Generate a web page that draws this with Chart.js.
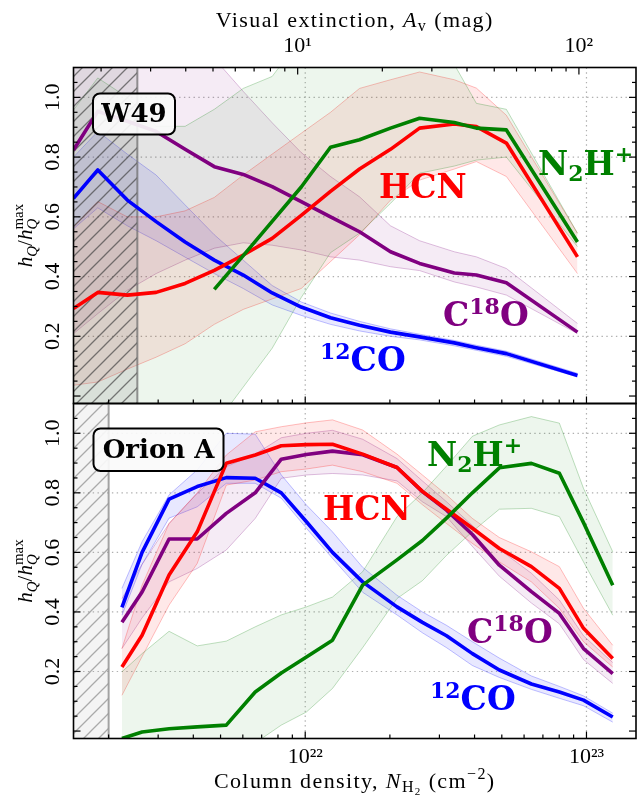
<!DOCTYPE html>
<html lang="en">
<head>
  <meta charset="UTF-8" />
  <title>Normalised emission vs column density</title>
  <script src="https://cdn.jsdelivr.net/npm/chart.js"></script>
  <style>
    body { margin: 0; background: #fff; }
    #wrap { position: relative; width: 637px; height: 801px; }
    canvas { position: absolute; left: 0; }
    #topCanvas { top: 0; }
    #botCanvas { top: 402px; }
  </style>
</head>
<body>
  <div id="wrap">
    <canvas id="topCanvas" width="637" height="405"></canvas>
    <canvas id="botCanvas" width="637" height="399"></canvas>
  </div>

  <script>
    // ---- W49 (top panel): column density bins, cm^-2 ----
    const w49N = [1.5e21, 1.83e21, 2.33e21, 2.95e21, 3.74e21, 4.75e21, 6.02e21, 7.63e21, 9.68e21,
                  1.23e22, 1.56e22, 2.01e22, 2.55e22, 3.39e22, 4.06e22, 5.19e22, 9.29e22];
    const w49CO     = [0.662, 0.757, 0.656, 0.584, 0.516, 0.455, 0.405, 0.345, 0.298, 0.262, 0.237, 0.214, 0.198, 0.178, 0.162, 0.142, 0.069];
    const w49COHi   = [0.80, 0.886, 0.81, 0.74, 0.64, 0.54, 0.455, 0.37, 0.315, 0.278, 0.25, 0.225, 0.207, 0.186, 0.17, 0.15, 0.076];
    const w49COLo   = [0.56, 0.63, 0.57, 0.52, 0.465, 0.41, 0.36, 0.305, 0.27, 0.24, 0.218, 0.20, 0.188, 0.168, 0.153, 0.133, 0.064];
    const w49C18O   = [0.824, 0.953, 0.92, 0.886, 0.826, 0.768, 0.742, 0.701, 0.651, 0.60, 0.55, 0.483, 0.444, 0.412, 0.405, 0.379, 0.214];
    const w49C18OHi = [1.25, 1.3, 1.28, 1.25, 1.2, 1.13, 1.02, 0.915, 0.815, 0.735, 0.667, 0.57, 0.52, 0.483, 0.466, 0.427, 0.243];
    const w49C18OLo = [0.209, 0.276, 0.354, 0.41, 0.455, 0.495, 0.513, 0.505, 0.489, 0.466, 0.455, 0.433, 0.42, 0.382, 0.365, 0.338, 0.209];
    const w49HCN    = [0.293, 0.347, 0.338, 0.347, 0.377, 0.421, 0.472, 0.528, 0.605, 0.685, 0.76, 0.826, 0.897, 0.911, 0.902, 0.847, 0.466];
    const w49HCNHi  = [0.567, 0.651, 0.60, 0.60, 0.62, 0.665, 0.74, 0.81, 0.88, 0.95, 1.03, 1.059, 1.085, 1.059, 1.031, 0.94, 0.545];
    const w49HCNLo  = [0.036, 0.047, 0.09, 0.13, 0.175, 0.24, 0.29, 0.325, 0.36, 0.45, 0.54, 0.656, 0.723, 0.76, 0.785, 0.735, 0.41];
    const w49N2H    = [null, null, null, null, null, 0.357, 0.47, 0.585, 0.70, 0.833, 0.858, 0.897, 0.93, 0.916, 0.897, 0.891, 0.516];
    const w49N2HHi  = [0.958, 1.065, 1.0, 0.903, 0.903, 0.96, 1.03, 1.07, 1.2, 1.25, 1.25, 1.22, 1.17, 1.11, 0.98, 0.96, 0.545];
    const w49N2HLo  = [-0.3, -0.3, -0.3, -0.3, -0.25, -0.1, 0.03, 0.16, 0.33, 0.48, 0.545, 0.645, 0.746, 0.77, 0.79, 0.80, 0.50];

    // ---- Orion A (bottom panel) ----
    const oriN = [2.23e21, 2.63e21, 3.28e21, 4.13e21, 5.24e21, 6.64e21, 8.22e21, 1.01e22, 1.25e22, 1.60e22,
                  2.12e22, 2.61e22, 3.18e22, 3.93e22, 4.90e22, 6.37e22, 8.01e22, 9.76e22, 1.24e23];
    const oriCO     = [0.415, 0.60, 0.779, 0.821, 0.851, 0.849, 0.80, 0.703, 0.60, 0.501, 0.417, 0.365, 0.32, 0.26, 0.205, 0.158, 0.131, 0.104, 0.047];
    const oriCOHi   = [0.479, 0.636, 0.793, 0.877, 1.0, 0.997, 0.86, 0.759, 0.669, 0.55, 0.456, 0.40, 0.355, 0.30, 0.245, 0.185, 0.15, 0.118, 0.06];
    const oriCOLo   = [0.389, 0.56, 0.715, 0.753, 0.832, 0.832, 0.782, 0.681, 0.58, 0.466, 0.39, 0.33, 0.28, 0.22, 0.18, 0.14, 0.11, 0.085, 0.03];
    const oriC18O   = [0.365, 0.467, 0.645, 0.645, 0.731, 0.80, 0.913, 0.929, 0.94, 0.928, 0.885, 0.804, 0.742, 0.66, 0.557, 0.468, 0.395, 0.277, 0.193];
    const oriC18OHi = [0.445, 0.56, 0.697, 0.798, 0.888, 0.93, 0.985, 1.0, 1.01, 0.98, 0.915, 0.84, 0.77, 0.69, 0.61, 0.53, 0.44, 0.32, 0.23];
    const oriC18OLo = [0.277, 0.38, 0.501, 0.546, 0.608, 0.714, 0.849, 0.86, 0.865, 0.86, 0.84, 0.77, 0.72, 0.62, 0.52, 0.43, 0.36, 0.24, 0.16];
    const oriHCN    = [0.215, 0.322, 0.524, 0.669, 0.899, 0.927, 0.958, 0.962, 0.963, 0.93, 0.885, 0.805, 0.745, 0.681, 0.613, 0.552, 0.479, 0.345, 0.244];
    const oriHCNHi  = [0.277, 0.49, 0.697, 0.80, 0.927, 1.005, 1.022, 1.035, 1.045, 1.011, 0.93, 0.86, 0.793, 0.714, 0.65, 0.602, 0.552, 0.412, 0.288];
    const oriHCNLo  = [0.12, 0.25, 0.423, 0.563, 0.826, 0.843, 0.871, 0.88, 0.893, 0.871, 0.832, 0.76, 0.697, 0.63, 0.568, 0.501, 0.412, 0.30, 0.215];
    const oriN2H    = [-0.025, -0.003, 0.008, 0.014, 0.02, 0.131, 0.195, 0.249, 0.305, 0.49, 0.575, 0.64, 0.715, 0.80, 0.884, 0.899, 0.866, 0.70, 0.49];
    const oriN2HHi  = [0.199, 0.26, 0.335, 0.286, 0.302, 0.35, 0.39, 0.417, 0.45, 0.535, 0.72, 0.80, 0.89, 0.99, 1.028, 1.056, 1.034, 0.815, 0.602];
    const oriN2HLo  = [-0.2, -0.2, -0.2, -0.2, -0.15, -0.04, 0.02, 0.064, 0.143, 0.28, 0.445, 0.505, 0.59, 0.67, 0.745, 0.748, 0.72, 0.568, 0.389];

    // incomplete region (hatched) upper edge per panel
    const w49Hatch = 2.53e21;
    const oriHatch = 2.0e21;

    // axes
    const NH2_PER_AV = 9.4e20;
    const xMin = 1.5e21, xMax = 1.5e23;
    const yMin = -0.025, yMax = 1.1;
    const nTicks = [2e21, 3e21, 4e21, 5e21, 6e21, 7e21, 8e21, 9e21, 1e22,
                    2e22, 3e22, 4e22, 5e22, 6e22, 7e22, 8e22, 9e22, 1e23];
    const avTicks = [2, 3, 4, 5, 6, 7, 8, 9, 10, 20, 30, 40, 50, 60, 70, 80, 90, 100];
    const yMinor = [0, 0.05, 0.1, 0.15, 0.2, 0.25, 0.3, 0.35, 0.4, 0.45, 0.5, 0.55, 0.6,
                    0.65, 0.7, 0.75, 0.8, 0.85, 0.9, 0.95, 1.0, 1.05];
    const yGrid = [0.2, 0.4, 0.6, 0.8, 1.0];
    const xGrid = [1e22, 1e23];

    const RGB = { co: '0,0,255', c18o: '128,0,128', hcn: '255,0,0', n2h: '0,128,0' };
    const SERIF = '"Liberation Serif", "DejaVu Serif", serif';
    const BOLD = '"DejaVu Serif", serif';
    const SUP = { '0': '⁰', '1': '¹', '2': '²', '3': '³', '4': '⁴', '5': '⁵', '6': '⁶', '7': '⁷', '8': '⁸', '9': '⁹' };

    function pts(xs, ys) {
      return xs.map((x, i) => ({ x: x, y: ys[i] }));
    }

    function pow10Label(v) {
      const e = Math.log10(v);
      if (Math.abs(e - Math.round(e)) > 1e-6) return null;
      return '10' + String(Math.round(e)).split('').map(d => SUP[d]).join('');
    }

    function hatchPattern(lineCol, bgCol) {
      const c = document.createElement('canvas');
      c.width = 15; c.height = 15;
      const g = c.getContext('2d');
      g.fillStyle = bgCol;
      g.fillRect(0, 0, 15, 15);
      g.strokeStyle = lineCol;
      g.lineWidth = 1.3;
      g.beginPath();
      g.moveTo(0, 15); g.lineTo(15, 0);
      g.moveTo(-2, 2); g.lineTo(2, -2);
      g.moveTo(13, 17); g.lineTo(17, 13);
      g.stroke();
      return g.createPattern(c, 'repeat');
    }

    function lineSet(xs, ys, rgb) {
      return { data: pts(xs, ys), borderColor: 'rgb(' + rgb + ')', borderWidth: 3.6,
               borderJoinStyle: 'round', pointRadius: 0, fill: false, xAxisID: 'x', yAxisID: 'y' };
    }

    function bandSets(xs, hi, lo, rgb, alpha) {
      return [
        { data: pts(xs, hi), borderColor: 'rgba(' + rgb + ',0.25)', borderWidth: 1, pointRadius: 0,
          backgroundColor: 'rgba(' + rgb + ',' + alpha + ')', fill: '+1', xAxisID: 'x', yAxisID: 'y' },
        { data: pts(xs, lo), borderColor: 'rgba(' + rgb + ',0.25)', borderWidth: 1, pointRadius: 0,
          fill: false, xAxisID: 'x', yAxisID: 'y' }
      ];
    }

    function hatchSets(edge, pattern, edgeCol) {
      return [
        { data: [{ x: edge, y: -0.2 }, { x: edge, y: 1.3 }], borderColor: edgeCol, borderWidth: 2,
          pointRadius: 0, fill: false, xAxisID: 'x', yAxisID: 'y' },
        { data: [{ x: xMin, y: 1.3 }, { x: edge, y: 1.3 }], borderWidth: 0, pointRadius: 0,
          backgroundColor: pattern, fill: 'start', xAxisID: 'x', yAxisID: 'y' }
      ];
    }

    // rich text: parts = [text, font, dy]
    function richWidth(ctx, parts) {
      let w = 0;
      parts.forEach(p => { ctx.font = p[1]; w += ctx.measureText(p[0]).width; });
      return w;
    }
    function drawRich(ctx, parts, x, y) {
      let cx = x;
      parts.forEach(p => {
        ctx.font = p[1];
        ctx.fillText(p[0], cx, y + (p[2] || 0));
        cx += ctx.measureText(p[0]).width;
      });
    }

    const L = 'bold 33px ' + BOLD, S = 'bold 22px ' + BOLD;
    const lblN2H = [['N', L], ['2', S, 6], ['H', L], ['+', S, -13]];
    const lblHCN = [['HCN', L]];
    const lblC18O = [['C', L], ['18', S, -12], ['O', L]];
    const lblCO = [['12', S, -12], ['CO', L]];

    const PANELS = {
      top: {
        box: { text: 'W49', x: 93, y: 93.5, w: 82, h: 41 },
        labels: [
          { parts: lblN2H, color: 'rgb(0,128,0)', x: 538, y: 175 },
          { parts: lblHCN, color: 'rgb(255,0,0)', x: 379, y: 198 },
          { parts: lblC18O, color: 'rgb(128,0,128)', x: 443, y: 326 },
          { parts: lblCO, color: 'rgb(0,0,255)', x: 320, y: 371 }
        ]
      },
      bottom: {
        box: { text: 'Orion A', x: 93.5, y: 26.5, w: 130, h: 42.5 },
        labels: [
          { parts: lblN2H, color: 'rgb(0,128,0)', x: 427, y: 64 },
          { parts: lblHCN, color: 'rgb(255,0,0)', x: 323, y: 118 },
          { parts: lblC18O, color: 'rgb(128,0,128)', x: 467, y: 241 },
          { parts: lblCO, color: 'rgb(0,0,255)', x: 430, y: 308 }
        ]
      }
    };

    function roundRect(ctx, x, y, w, h, r) {
      ctx.beginPath();
      ctx.moveTo(x + r, y);
      ctx.lineTo(x + w - r, y);
      ctx.arcTo(x + w, y, x + w, y + r, r);
      ctx.lineTo(x + w, y + h - r);
      ctx.arcTo(x + w, y + h, x + w - r, y + h, r);
      ctx.lineTo(x + r, y + h);
      ctx.arcTo(x, y + h, x, y + h - r, r);
      ctx.lineTo(x, y + r);
      ctx.arcTo(x, y, x + r, y, r);
      ctx.closePath();
    }

    const framePlugin = {
      id: 'frame',
      beforeDatasetsDraw(chart, args, opts) {
        const { ctx, chartArea: a, scales } = chart;
        ctx.save();
        ctx.strokeStyle = '#b0b0b0';
        ctx.lineWidth = 1.2;
        ctx.setLineDash([1.4, 3.4]);
        yGrid.forEach(v => {
          const py = scales.y.getPixelForValue(v);
          ctx.beginPath(); ctx.moveTo(a.left, py); ctx.lineTo(a.right, py); ctx.stroke();
        });
        xGrid.forEach(v => {
          const px = scales.x.getPixelForValue(v);
          ctx.beginPath(); ctx.moveTo(px, a.top); ctx.lineTo(px, a.bottom); ctx.stroke();
        });
        ctx.restore();
      },
      afterDatasetsDraw(chart, args, opts) {
        const { ctx, chartArea: a, scales } = chart;
        const panel = PANELS[opts.panel];
        ctx.save();
        // curve labels
        ctx.textBaseline = 'alphabetic';
        panel.labels.forEach(l => {
          ctx.fillStyle = l.color;
          drawRich(ctx, l.parts, l.x, l.y);
        });
        // region box
        const b = panel.box;
        roundRect(ctx, b.x, b.y, b.w, b.h, 7);
        ctx.fillStyle = 'rgba(250,250,250,0.92)';
        ctx.fill();
        ctx.lineWidth = 2;
        ctx.strokeStyle = '#000';
        ctx.stroke();
        ctx.fillStyle = '#000';
        ctx.font = 'bold 26px ' + BOLD;
        ctx.textAlign = 'center';
        ctx.textBaseline = 'middle';
        ctx.fillText(b.text, b.x + b.w / 2, b.y + b.h / 2 + 1);
        ctx.textAlign = 'left';

        // inward ticks
        ctx.strokeStyle = '#000';
        ctx.lineWidth = 1.2;
        const tick = (x1, y1, x2, y2) => { ctx.beginPath(); ctx.moveTo(x1, y1); ctx.lineTo(x2, y2); ctx.stroke(); };
        yMinor.forEach(v => {
          const py = scales.y.getPixelForValue(v);
          const len = Math.abs(v * 5 - Math.round(v * 5)) < 1e-6 ? 7 : 4;
          tick(a.left, py, a.left + len, py);
          tick(a.right, py, a.right - len, py);
        });
        nTicks.forEach(v => {
          const px = scales.x.getPixelForValue(v);
          const len = pow10Label(v) ? 7 : 4;
          tick(px, a.bottom, px, a.bottom - len);
        });
        if (opts.panel === 'top') {
          avTicks.forEach(v => {
            const px = scales.xTop.getPixelForValue(v);
            const len = pow10Label(v) ? 7 : 4;
            tick(px, a.top, px, a.top + len);
          });
        }
        // frame
        ctx.lineWidth = 1.6;
        ctx.strokeRect(a.left, a.top, a.right - a.left, a.bottom - a.top);
        ctx.restore();
      },
      afterDraw(chart, args, opts) {
        const { ctx, chartArea: a } = chart;
        const F = '21px ' + SERIF, FI = 'italic 21px ' + SERIF;
        const f = '15px ' + SERIF, fi = 'italic 15px ' + SERIF;
        ctx.save();
        ctx.fillStyle = '#000';
        ctx.textBaseline = 'alphabetic';
        // y axis title h_Q / h_Q^max
        const cy = (a.top + a.bottom) / 2;
        ctx.translate(32, cy);
        ctx.rotate(-Math.PI / 2);
        const head = [['h', FI], ['Q', fi, 4.5], ['/', F], ['h', FI]];
        ctx.font = fi; const wq = ctx.measureText('Q').width;
        ctx.font = f; const wm = ctx.measureText('max').width;
        const total = richWidth(ctx, head) + Math.max(wq, wm);
        const x0 = -total / 2;
        drawRich(ctx, head, x0, 0);
        const xs = x0 + richWidth(ctx, head);
        ctx.font = fi; ctx.fillText('Q', xs, 4.5);
        ctx.font = f; ctx.fillText('max', xs, -9);
        ctx.restore();

        // x axis titles
        const T = '22px ' + SERIF, TI = 'italic 22px ' + SERIF;
        const t = '16px ' + SERIF;
        ctx.save();
        ctx.fillStyle = '#000';
        ctx.letterSpacing = '1.4px';
        const cx = (a.left + a.right) / 2;
        if (opts.panel === 'top') {
          const parts = [['Visual extinction, ', T], ['A', TI], ['v', t, 4], [' (mag)', T]];
          drawRich(ctx, parts, cx - richWidth(ctx, parts) / 2, 26.5);
        } else {
          const parts = [['Column density, ', T], ['N', TI], ['H', t, 4], ['2', '11px ' + SERIF, 7],
                         [' (cm', T], ['−2', t, -9], [')', T]];
          drawRich(ctx, parts, cx - richWidth(ctx, parts) / 2, 385.5);
        }
        ctx.restore();
      }
    };

    function makeChart(canvasId, panel, datasets) {
      const isTop = panel === 'top';
      const tickFont = { family: SERIF, size: 22 };
      return new Chart(document.getElementById(canvasId), {
        type: 'line',
        data: { datasets: datasets },
        plugins: [framePlugin],
        options: {
          responsive: false,
          animation: false,
          events: [],
          layout: { padding: { left: 0, right: 1, top: isTop ? 0 : 1.5, bottom: isTop ? 1.5 : 0 } },
          plugins: { legend: { display: false }, tooltip: { enabled: false }, frame: { panel: panel } },
          scales: {
            x: {
              type: 'logarithmic', position: 'bottom', min: xMin, max: xMax, display: !isTop,
              grid: { display: false, drawTicks: false }, border: { display: false },
              ticks: { autoSkip: false, maxRotation: 0, padding: 6, color: '#000', font: tickFont, callback: v => pow10Label(v) },
              afterFit: s => { s.height = isTop ? 0 : 62.5; }
            },
            xTop: {
              type: 'logarithmic', axis: 'x', position: 'top', min: xMin / NH2_PER_AV, max: xMax / NH2_PER_AV, display: isTop,
              grid: { display: false, drawTicks: false }, border: { display: false },
              ticks: { autoSkip: false, maxRotation: 0, padding: 8, color: '#000', font: tickFont, callback: v => pow10Label(v) },
              afterFit: s => { s.height = isTop ? 67.5 : 0; }
            },
            y: {
              type: 'linear', position: 'left', min: yMin, max: yMax,
              grid: { display: false, drawTicks: false }, border: { display: false },
              ticks: { stepSize: 0.2, includeBounds: false, autoSkip: false, minRotation: 90, maxRotation: 90,
                       crossAlign: 'center', padding: 7, color: '#000', font: tickFont,
                       callback: v => (v > 0.1 && v < 1.05) ? v.toFixed(1) : null },
              afterFit: s => { s.width = 73.5; s.paddingTop = 0; s.paddingBottom = 0; }
            }
          }
        }
      });
    }

    function panelSets(xs, d, hatchEdge, pattern, edgeCol) {
      return [
        lineSet(xs, d.n2h, RGB.n2h),
        lineSet(xs, d.hcn, RGB.hcn),
        lineSet(xs, d.c18o, RGB.c18o),
        lineSet(xs, d.co, RGB.co),
        ...hatchSets(hatchEdge, pattern, edgeCol),
        ...bandSets(xs, d.n2hHi, d.n2hLo, RGB.n2h, 0.07),
        ...bandSets(xs, d.hcnHi, d.hcnLo, RGB.hcn, 0.09),
        ...bandSets(xs, d.c18oHi, d.c18oLo, RGB.c18o, 0.08),
        ...bandSets(xs, d.coHi, d.coLo, RGB.co, 0.09)
      ];
    }

    window.onload = () => {
      makeChart('topCanvas', 'top', panelSets(w49N, {
        co: w49CO, coHi: w49COHi, coLo: w49COLo,
        c18o: w49C18O, c18oHi: w49C18OHi, c18oLo: w49C18OLo,
        hcn: w49HCN, hcnHi: w49HCNHi, hcnLo: w49HCNLo,
        n2h: w49N2H, n2hHi: w49N2HHi, n2hLo: w49N2HLo
      }, w49Hatch, hatchPattern('rgba(60,60,60,0.65)', 'rgba(110,110,110,0.16)'), 'rgba(110,110,110,0.75)'));

      makeChart('botCanvas', 'bottom', panelSets(oriN, {
        co: oriCO, coHi: oriCOHi, coLo: oriCOLo,
        c18o: oriC18O, c18oHi: oriC18OHi, c18oLo: oriC18OLo,
        hcn: oriHCN, hcnHi: oriHCNHi, hcnLo: oriHCNLo,
        n2h: oriN2H, n2hHi: oriN2HHi, n2hLo: oriN2HLo
      }, oriHatch, hatchPattern('rgba(120,120,120,0.6)', 'rgba(150,150,150,0.1)'), 'rgba(140,140,140,0.8)'));
    };
  </script>
</body>
</html>
